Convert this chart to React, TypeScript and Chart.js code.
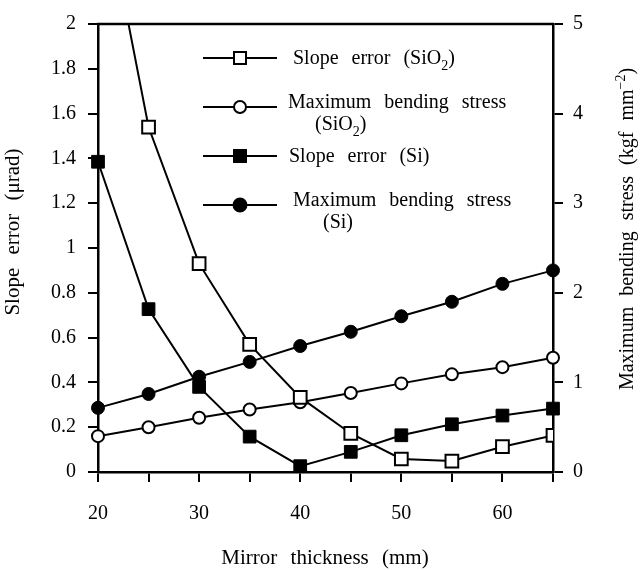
import React, { useEffect, useRef } from "react";
import { Chart, registerables } from "chart.js";

Chart.register(...registerables);

const thickness = [20, 25, 30, 35, 40, 45, 50, 55, 60, 65];
const slopeErrorSiO2 = [2.7, 1.54, 0.93, 0.57, 0.333, 0.172, 0.058, 0.049, 0.113, 0.163];
const maxStressSiO2 = [0.4, 0.5, 0.605, 0.698, 0.779, 0.882, 0.989, 1.09, 1.17, 1.275];
const slopeErrorSi = [1.385, 0.727, 0.38, 0.158, 0.026, 0.09, 0.164, 0.213, 0.252, 0.283];
const maxStressSi = [0.716, 0.871, 1.063, 1.229, 1.406, 1.565, 1.738, 1.9, 2.1, 2.25];

const xTickValues = [20, 30, 40, 50, 60];
const legendLabels = [
  [[{ t: "Slope error (SiO" }, { t: "2", sub: true }, { t: ")" }]],
  [[{ t: "Maximum bending stress" }], [{ t: "(SiO" }, { t: "2", sub: true }, { t: ")" }]],
  [[{ t: "Slope error (Si)" }]],
  [[{ t: "Maximum bending stress" }], [{ t: "(Si)" }]],
];

const FONT = "'Liberation Serif', 'Times New Roman', serif";

type Part = { t: string; sub?: boolean; sup?: boolean };

function partWidth(ctx: CanvasRenderingContext2D, p: Part, size: number, ws: number) {
  ctx.font = `${p.sub || p.sup ? Math.round(size * 0.72) : size}px ${FONT}`;
  const words = p.t.split(" ");
  let w = 0;
  words.forEach((wd, i) => {
    w += ctx.measureText(wd).width;
    if (i < words.length - 1) w += ctx.measureText(" ").width + ws;
  });
  return w;
}

function drawRich(ctx: CanvasRenderingContext2D, parts: Part[], x: number, y: number, size: number, ws: number, align: "left" | "center" = "left") {
  let total = 0;
  parts.forEach((p) => (total += partWidth(ctx, p, size, ws)));
  let cx = align === "center" ? x - total / 2 : x;
  ctx.textAlign = "left";
  ctx.textBaseline = "alphabetic";
  ctx.fillStyle = "#000";
  parts.forEach((p) => {
    const s = p.sub || p.sup ? Math.round(size * 0.72) : size;
    ctx.font = `${s}px ${FONT}`;
    const dy = p.sub ? size * 0.28 : p.sup ? -size * 0.4 : 0;
    const words = p.t.split(" ");
    words.forEach((wd, i) => {
      ctx.fillText(wd, cx, y + dy);
      cx += ctx.measureText(wd).width;
      if (i < words.length - 1) cx += ctx.measureText(" ").width + ws;
    });
  });
}

const decorPlugin = {
  id: "decor",
  afterDraw(chart: any) {
    const ctx: CanvasRenderingContext2D = chart.ctx;
    const a = chart.chartArea;
    ctx.save();
    // top border
    ctx.strokeStyle = "#000";
    ctx.lineWidth = 2.5;
    ctx.beginPath();
    ctx.moveTo(a.left - 1, a.top);
    ctx.lineTo(a.right + 1, a.top);
    ctx.stroke();

    // axis titles
    drawRich(ctx, [{ t: "Mirror thickness (mm)" }], 325, 564, 21, 8, "center");
    ctx.save();
    ctx.translate(19, 232);
    ctx.rotate(-Math.PI / 2);
    drawRich(ctx, [{ t: "Slope error (μrad)" }], 0, 0, 21, 8, "center");
    ctx.restore();
    ctx.save();
    ctx.translate(633, 229);
    ctx.rotate(-Math.PI / 2);
    drawRich(ctx, [{ t: "Maximum bending stress (kgf mm" }, { t: "−2", sup: true }, { t: ")" }], 0, 0, 20, 6, "center");
    ctx.restore();

    // legend
    const rows = [58, 107, 156, 205];
    const textX = [293, 288, 289, 293];
    const textX2 = [0, 315, 0, 323];
    const textDy = [6, 1, 6, 1];
    rows.forEach((ry, i) => {
      ctx.strokeStyle = "#000";
      ctx.lineWidth = 2;
      ctx.beginPath();
      ctx.moveTo(203, ry);
      ctx.lineTo(277, ry);
      ctx.stroke();
      const mx = 240;
      ctx.lineWidth = 2;
      ctx.beginPath();
      if (i === 0 || i === 2) {
        ctx.rect(mx - 6, ry - 6, 12, 12);
      } else {
        ctx.arc(mx, ry, i === 1 ? 6 : 6.5, 0, Math.PI * 2);
      }
      ctx.fillStyle = i < 2 ? "#fff" : "#000";
      ctx.fill();
      ctx.stroke();
      const lines = legendLabels[i];
      lines.forEach((ln, j) => {
        const lx = j === 0 ? textX[i] : textX2[i];
        drawRich(ctx, ln as Part[], lx, ry + textDy[i] + j * 22, 20, 8);
      });
    });
    ctx.restore();
  },
};

export default function App() {
  const ref = useRef<HTMLCanvasElement>(null);
  useEffect(() => {
    document.body.style.margin = "0";
    const canvas = ref.current!;
    const mk = (x: number, y: number) => ({ x, y });
    const chart = new Chart(canvas, {
      type: "line",
      data: {
        datasets: [
          {
            label: "Slope error (SiO2)",
            data: thickness.map((x, i) => mk(x, slopeErrorSiO2[i])),
            yAxisID: "y",
            borderColor: "#000",
            borderWidth: 2,
            pointStyle: "rect",
            pointRadius: 9,
            pointBackgroundColor: "#fff",
            pointBorderColor: "#000",
            pointBorderWidth: 2,
            clip: 0,
          },
          {
            label: "Maximum bending stress (SiO2)",
            data: thickness.map((x, i) => mk(x, maxStressSiO2[i])),
            yAxisID: "y2",
            borderColor: "#000",
            borderWidth: 2,
            pointStyle: "circle",
            pointRadius: 6,
            pointBackgroundColor: "#fff",
            pointBorderColor: "#000",
            pointBorderWidth: 2,
            clip: 8,
          },
          {
            label: "Slope error (Si)",
            data: thickness.map((x, i) => mk(x, slopeErrorSi[i])),
            yAxisID: "y",
            borderColor: "#000",
            borderWidth: 2,
            pointStyle: "rect",
            pointRadius: 9,
            pointBackgroundColor: "#000",
            pointBorderColor: "#000",
            pointBorderWidth: 1,
            clip: 8,
          },
          {
            label: "Maximum bending stress (Si)",
            data: thickness.map((x, i) => mk(x, maxStressSi[i])),
            yAxisID: "y2",
            borderColor: "#000",
            borderWidth: 2,
            pointStyle: "circle",
            pointRadius: 6.5,
            pointBackgroundColor: "#000",
            pointBorderColor: "#000",
            pointBorderWidth: 1,
            clip: 8,
          },
        ],
      },
      options: {
        animation: false,
        responsive: false,
        maintainAspectRatio: false,
        layout: { padding: { top: 20, left: 0, right: 0, bottom: 0 } },
        plugins: { legend: { display: false }, tooltip: { enabled: false } },
        scales: {
          x: {
            type: "linear",
            min: 20,
            max: 65,
            afterFit: (s: any) => { s.height = 98; },
            ticks: {
              stepSize: 5,
              autoSkip: false,
              maxRotation: 0,
              padding: 20,
              color: "#000",
              font: { family: FONT, size: 20 },
              callback: (v: any) => (xTickValues.includes(Number(v)) ? String(v) : ""),
            },
            grid: { drawOnChartArea: false, drawTicks: true, tickLength: 10, color: "#000", lineWidth: 2 },
            border: { display: true, color: "#000", width: 2.5 },
          },
          y: {
            type: "linear",
            position: "left",
            min: 0,
            max: 2,
            afterFit: (s: any) => { s.width = 98; },
            ticks: {
              stepSize: 0.2,
              padding: 12,
              color: "#000",
              font: { family: FONT, size: 20 },
              callback: (v: any) => String(Number(Number(v).toFixed(1))),
            },
            grid: { drawOnChartArea: false, drawTicks: true, tickLength: 10, color: "#000", lineWidth: 2 },
            border: { display: true, color: "#000", width: 2.5 },
          },
          y2: {
            type: "linear",
            position: "right",
            min: 0,
            max: 5,
            afterFit: (s: any) => { s.width = 87; },
            ticks: {
              stepSize: 1,
              padding: 10,
              color: "#000",
              font: { family: FONT, size: 20 },
              callback: (v: any) => String(v),
            },
            grid: { drawOnChartArea: false, drawTicks: true, tickLength: 10, color: "#000", lineWidth: 2 },
            border: { display: true, color: "#000", width: 2.5 },
          },
        },
      } as any,
      plugins: [decorPlugin],
    });
    return () => chart.destroy();
  }, []);
  return (
    <div style={{ width: 640, height: 570, background: "#fff" }}>
      <canvas ref={ref} width={640} height={570} style={{ display: "block" }} />
    </div>
  );
}
